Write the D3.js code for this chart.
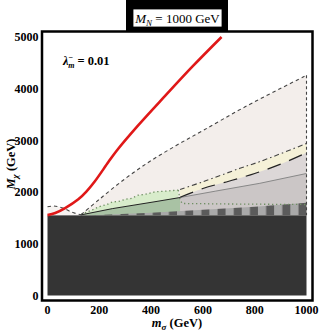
<!DOCTYPE html>
<html>
<head>
<meta charset="utf-8">
<script src="https://cdn.jsdelivr.net/npm/d3@7"></script>
<style>
  body { margin: 0; background: #fff; }
  svg { display: block; }
  text { font-family: "Liberation Serif", "DejaVu Serif", serif; }
</style>
</head>
<body>
<svg id="chart" width="319" height="331"></svg>
<script>
// tick labels
var xTicks = [0, 200, 400, 600, 800, 1000];
var yTicks = [0, 1000, 2000, 3000, 4000, 5000];

// excluded floor (M_chi below this)
var floorM = 1550;

// curves: [m_sigma, M_chi]
var redCurve = [[0,1555],[30,1595],[68,1690],[119,1860],[150,2010],[183,2210],[235,2580],[267,2800],[350,3290],[454,3860],[560,4430],[672,5000]];
var bumpDashed = [[0,1715],[25,1730],[60,1690],[95,1610],[130,1560]];
var upperDashed = [[130,1565],[200,1860],[300,2260],[400,2610],[500,2910],[600,3190],[763,3650],[1000,4260]];
var dashDot = [[512,2050],[600,2200],[743,2460],[820,2590],[1000,2940]];
var longDash = [[512,1900],[600,2070],[700,2210],[800,2360],[900,2540],[1000,2760]];
var thinGray = [[512,1895],[650,2020],[820,2170],[1000,2360]];
var solidBlack = [[130,1560],[250,1680],[415,1814],[512,1895]];
var greenTop = [[130,1570],[170,1650],[200,1720],[230,1760],[250,1810],[275,1820],[300,1860],[325,1880],[350,1940],[380,1960],[415,2005],[460,2020],[505,2040]];
var greenLow = [[505,2040],[512,1850],[520,1780],[700,1770],[1000,1760]];
var checkerTop = [[170,1550],[400,1600],[800,1715],[1000,1795]];

var svg = d3.select("#chart");
var x = d3.scaleLinear().domain([0, 1000]).range([47.5, 306.5]);
var y = d3.scaleLinear().domain([0, 5000]).range([295.5, 37]);

var line = d3.line().x(function(d) { return x(d[0]); }).y(function(d) { return y(d[1]); });
var smooth = d3.line().curve(d3.curveCatmullRom.alpha(0.5))
  .x(function(d) { return x(d[0]); }).y(function(d) { return y(d[1]); });
var area = d3.area()
  .x(function(d) { return x(d[0]); })
  .y0(y(floorM))
  .y1(function(d) { return y(d[1]); });
var smoothArea = d3.area().curve(d3.curveCatmullRom.alpha(0.5))
  .x(function(d) { return x(d[0]); })
  .y0(y(floorM))
  .y1(function(d) { return y(d[1]); });

// checker stripe pattern
var stripe = x(62.5) - x(0);
var pat = svg.append("defs").append("pattern")
  .attr("id", "checker")
  .attr("patternUnits", "userSpaceOnUse")
  .attr("x", x(0)).attr("y", 0)
  .attr("width", stripe).attr("height", 400);
pat.append("rect").attr("width", stripe / 2).attr("height", 400).attr("fill", "#a9a9a9");
pat.append("rect").attr("x", stripe / 2).attr("width", stripe / 2).attr("height", 400).attr("fill", "#5b5b5b");

// frame
svg.append("rect")
  .attr("x", 42).attr("y", 31.5).attr("width", 270.5).attr("height", 269)
  .attr("fill", "#fff").attr("stroke", "#000").attr("stroke-width", 2.5);

// filled regions, back to front
svg.append("path").datum(upperDashed).attr("d", smoothArea).attr("fill", "#f3eeeb");
svg.append("path").datum(bumpDashed).attr("d", smoothArea).attr("fill", "#f6f3f1");
svg.append("path").datum(dashDot).attr("d", smoothArea).attr("fill", "#f5f1d8");
svg.append("path").datum(longDash).attr("d", smoothArea).attr("fill", "#dcd7d7");
svg.append("path").datum(thinGray).attr("d", area).attr("fill", "#cbc6c6");
svg.append("path").datum(greenTop).attr("d", area).attr("fill", "#d8eccb");
svg.append("path").datum(solidBlack).attr("d", area).attr("fill", "#a9c2a4");
svg.append("path").datum(checkerTop).attr("d", area).attr("fill", "url(#checker)");

// dark excluded block
svg.append("rect")
  .attr("x", x(0)).attr("y", y(floorM))
  .attr("width", x(1000) - x(0)).attr("height", y(0) - y(floorM))
  .attr("fill", "#343434");

// boundary lines
function drawLine(data, color, width, dash, gen) {
  return svg.append("path").datum(data)
    .attr("d", gen || line)
    .attr("fill", "none")
    .attr("stroke", color)
    .attr("stroke-width", width)
    .attr("stroke-dasharray", dash || null);
}
drawLine(greenTop, "#6f8f63", 1.3, "1.3,2.7");
drawLine(greenLow, "#6f8f63", 1.3, "1.3,2.7");
drawLine(solidBlack, "#222", 1);
drawLine(thinGray, "#888", 1);
drawLine(longDash, "#222", 1.2, "14,9", smooth);
drawLine(dashDot, "#444", 1.1, "5,3,1.5,3", smooth);
drawLine(upperDashed, "#444", 1.1, "3.5,3", smooth);
drawLine(bumpDashed, "#444", 1.1, "3.5,3", smooth);
drawLine([[1000, 4260], [1000, floorM]], "#444", 1.1, "3,2.5");
drawLine(redCurve, "#e01818", 2.6, null, smooth);

// tick labels
svg.append("g").selectAll("text").data(xTicks).enter().append("text")
  .attr("x", function(d) { return x(d); })
  .attr("y", 313.5)
  .attr("text-anchor", "middle")
  .attr("font-size", 12).attr("font-weight", "bold")
  .text(function(d) { return d; });

svg.append("g").selectAll("text").data(yTicks).enter().append("text")
  .attr("x", 38.5)
  .attr("y", function(d) { return y(d) + 4.3; })
  .attr("text-anchor", "end")
  .attr("font-size", 12).attr("font-weight", "bold")
  .text(function(d) { return d; });

// axis titles
var xl = svg.append("text")
  .attr("x", 177).attr("y", 327)
  .attr("text-anchor", "middle")
  .attr("font-size", 12.5).attr("font-weight", "bold");
xl.append("tspan").attr("font-style", "italic").text("m");
xl.append("tspan").attr("font-size", 9).attr("dy", 2.5).attr("font-style", "italic").text("σ");
xl.append("tspan").attr("dy", -2.5).text(" (GeV)");

var yl = svg.append("text")
  .attr("transform", "translate(15,164) rotate(-90)")
  .attr("text-anchor", "middle")
  .attr("font-size", 12.5).attr("font-weight", "bold");
yl.append("tspan").attr("font-style", "italic").text("M");
yl.append("tspan").attr("font-size", 9).attr("dy", 2.5).attr("font-style", "italic").text("χ");
yl.append("tspan").attr("dy", -2.5).text(" (GeV)");

// lambda annotation
var lam = svg.append("text")
  .attr("x", 63).attr("y", 65)
  .attr("font-size", 12.5).attr("font-weight", "bold");
lam.append("tspan").attr("font-style", "italic").text("λ");
lam.append("tspan").attr("font-size", 8).attr("dy", -5).text("−");
lam.append("tspan").attr("font-size", 8).attr("font-style", "italic").attr("dx", -5).attr("dy", 8).text("m");
lam.append("tspan").attr("dy", -3).text(" = 0.01");

// title box
svg.append("rect").attr("x", 126).attr("y", -2).attr("width", 102).attr("height", 34).attr("fill", "#000");
svg.append("rect").attr("x", 133).attr("y", 9).attr("width", 89).attr("height", 18)
  .attr("fill", "#fff").attr("stroke", "#000").attr("stroke-width", 0.8);
var title = svg.append("text")
  .attr("x", 177.5).attr("y", 23)
  .attr("text-anchor", "middle")
  .attr("font-size", 13);
title.append("tspan").attr("font-style", "italic").text("M");
title.append("tspan").attr("font-size", 9).attr("dy", 2.5).attr("font-style", "italic").text("N");
title.append("tspan").attr("dy", -2.5).text(" = 1000 GeV");
</script>
</body>
</html>
